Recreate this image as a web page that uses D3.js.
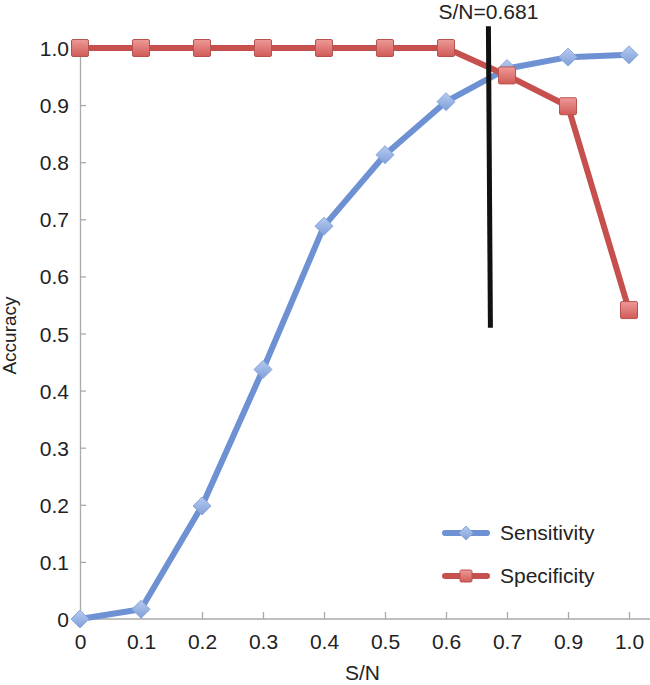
<!DOCTYPE html>
<html>
<head>
<meta charset="utf-8">
<script src="https://cdn.jsdelivr.net/npm/d3@7"></script>
<style>
  body { margin: 0; background: #fff; }
  text { font-family: "Liberation Sans", Arial, sans-serif; fill: #222; }
</style>
</head>
<body>
<script>
 ///////////////////////////////////////////////////////
 // data

 var snValues = [0, 0.1, 0.2, 0.3, 0.4, 0.5, 0.6, 0.7, 0.9, 1.0];
 var sensitivity = [0, 0.017, 0.198, 0.437, 0.688, 0.813, 0.906, 0.964, 0.984, 0.988];
 var specificity = [1, 1, 1, 1, 1, 1, 1, 0.952, 0.898, 0.541];
 var yTicks = [0, 0.1, 0.2, 0.3, 0.4, 0.5, 0.6, 0.7, 0.8, 0.9, 1.0];
 var threshold = 0.681;
 var thresholdRange = [0.51, 1.038];

 ///////////////////////////////////////////////////////
 // margins

 var w = 650;
 var h = 685;
 var fs = "21px";
 var svg = d3.select("body").append("svg")
   .attr("width", w)
   .attr("height", h),
   margin = { top: 48, bottom: 66, left: 80, right: 21 },
   width = w - margin.left - margin.right,
   height = h - margin.top - margin.bottom;

 var defs = svg.append("defs");
 function grad(id, c1, c2) {
   var g = defs.append("linearGradient").attr("id", id)
     .attr("x1", 0).attr("y1", 0).attr("x2", 0).attr("y2", 1);
   g.append("stop").attr("offset", "0%").attr("stop-color", c1);
   g.append("stop").attr("offset", "100%").attr("stop-color", c2);
 }
 grad("gBlue", "#b6cbef", "#80a0da");
 grad("gRed", "#ee9a98", "#d05b58");

 ///////////////////////////////////////////////////////
 // scales

 // categories are evenly spaced (0.8 is skipped on the axis)
 var step = width / (snValues.length - 1);
 var x = d3.scaleLinear()
   .domain(snValues)
   .range(snValues.map(function(d, i) { return i * step; }));
 var y = d3.scaleLinear()
   .domain([0, 1])
   .range([height, 0]);

 var chart = svg.append("g")
   .attr("transform", "translate(" + margin.left + "," + margin.top + ")");

 ///////////////////////////////////////////////////////
 // axes

 var fmt = function(d) { return d === 0 ? "0" : d.toFixed(1); };

 var xAxis = d3.axisBottom(x)
   .tickValues(snValues)
   .tickSize(-7)
   .tickPadding(15)
   .tickFormat(fmt);
 var yAxis = d3.axisLeft(y)
   .tickValues(yTicks)
   .tickSize(-6)
   .tickPadding(11)
   .tickFormat(fmt);

 var gx = chart.append("g")
   .attr("transform", "translate(0," + height + ")")
   .call(xAxis);
 gx.select(".domain").attr("d", "M0,0H" + (w - margin.left));
 var gy = chart.append("g").call(yAxis);

 [gx, gy].forEach(function(g) {
   g.select(".domain").attr("stroke", "#aaa").attr("stroke-width", 1.3);
   g.selectAll(".tick line").attr("stroke", "#aaa").attr("stroke-width", 1.3);
   g.selectAll(".tick text")
     .style("font-family", "'Liberation Sans', Arial, sans-serif")
     .style("font-size", fs)
     .attr("fill", "#222");
 });
 gy.selectAll(".tick text").attr("dy", "0.36em");

 // axis titles
 svg.append("text")
   .attr("transform", "translate(16," + (margin.top + height / 2 + 2) + ") rotate(-90)")
   .attr("text-anchor", "middle")
   .style("font-size", "19px")
   .text("Accuracy");
 svg.append("text")
   .attr("x", margin.left + width / 2 + 8)
   .attr("y", 680)
   .attr("text-anchor", "middle")
   .style("font-size", fs)
   .text("S/N");

 ///////////////////////////////////////////////////////
 // plot

 var line = d3.line()
   .x(function(d, i) { return x(snValues[i]); })
   .y(function(d) { return y(d); });

 chart.append("path")
   .datum(sensitivity)
   .attr("d", line)
   .attr("fill", "none")
   .attr("stroke", "#6d91d2")
   .attr("stroke-width", 6)
   .attr("stroke-linejoin", "round");

 chart.append("path")
   .datum(specificity)
   .attr("d", line)
   .attr("fill", "none")
   .attr("stroke", "#c5504d")
   .attr("stroke-width", 6)
   .attr("stroke-linejoin", "round");

 function diamond(sel, cx, cy, r) {
   sel.append("path")
     .attr("d", "M" + cx + "," + (cy - r) + "L" + (cx + r) + "," + cy +
       "L" + cx + "," + (cy + r) + "L" + (cx - r) + "," + cy + "Z")
     .attr("fill", "url(#gBlue)")
     .attr("stroke", "#8aa6da")
     .attr("stroke-width", 1);
 }
 function square(sel, cx, cy, s) {
   sel.append("rect")
     .attr("x", cx - s / 2).attr("y", cy - s / 2)
     .attr("width", s).attr("height", s)
     .attr("rx", 1.5)
     .attr("fill", "url(#gRed)")
     .attr("stroke", "#b9534f")
     .attr("stroke-width", 1);
 }

 var mk = chart.append("g");
 sensitivity.forEach(function(d, i) { diamond(mk, x(snValues[i]), y(d), 9); });
 specificity.forEach(function(d, i) { square(mk, x(snValues[i]), y(d), 17); });

 // threshold line (hand placed in the original, a bit left of 0.681)
 var tx = x(threshold) - 6;
 chart.append("line")
   .attr("x1", tx - 1).attr("x2", tx + 1)
   .attr("y1", y(thresholdRange[1])).attr("y2", y(thresholdRange[0]))
   .attr("stroke", "#111")
   .attr("stroke-width", 5);
 chart.append("text")
   .attr("x", tx - 1)
   .attr("y", y(thresholdRange[1]) - 7)
   .attr("text-anchor", "middle")
   .style("font-size", fs)
   .text("S/N=" + threshold);

 ///////////////////////////////////////////////////////
 // legend

 var legend = svg.append("g").attr("transform", "translate(445,533)");
 [["Sensitivity", "#6d91d2"], ["Specificity", "#c5504d"]].forEach(function(item, i) {
   var g = legend.append("g").attr("transform", "translate(0," + i * 43 + ")");
   g.append("line")
     .attr("x1", 0).attr("x2", 42)
     .attr("stroke", item[1])
     .attr("stroke-width", 6)
     .attr("stroke-linecap", "round");
   if (i === 0) diamond(g, 21, 0, 7);
   else square(g, 21, 0, 12);
   g.append("text")
     .attr("x", 55).attr("y", 0)
     .attr("dy", "0.35em")
     .style("font-size", fs)
     .text(item[0]);
 });
</script>
</body>
</html>
